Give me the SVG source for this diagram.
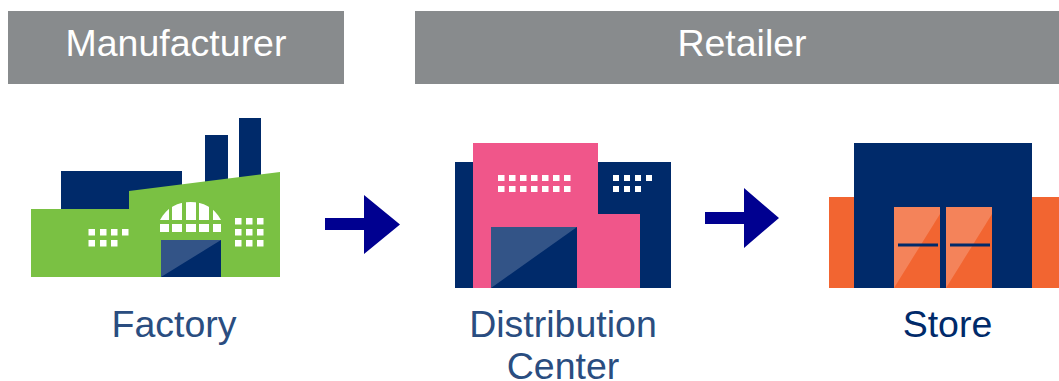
<svg xmlns="http://www.w3.org/2000/svg" width="1059" height="381" viewBox="0 0 1059 381">
<style>
.hdr{fill:#888b8d}
.ht{font:37.500px "Liberation Sans",Arial,sans-serif;fill:#fff;text-anchor:middle}
.lb{font:37.500px "Liberation Sans",Arial,sans-serif;fill:#2a4d80;text-anchor:middle}
.navy{fill:#002a6a}
.w{fill:#fff}
.gl{fill:#fff;fill-opacity:.2}
.arrow{fill:#000090}
</style>
<defs>
<clipPath id="dome"><path d="M160 220C167 207 178 202 190.500 202C203 202 214 207 221 220Z"/></clipPath>
</defs>
<rect width="1059" height="381" fill="#fff"/>
<g id="manufacturer"><rect class="hdr" x="8" y="11" width="336" height="73"/><text class="ht" x="176" y="56">Manufacturer</text></g>
<g id="retailer"><rect class="hdr" x="415" y="11" width="644" height="73"/><text class="ht" x="742" y="56">Retailer</text></g>
<g id="factory">
<rect class="navy" x="61" y="171" width="121" height="40"/>
<rect class="navy" x="205" y="135" width="23" height="50"/>
<rect class="navy" x="239" y="118" width="22" height="65"/>
<path fill="#7ac143" d="M31 209H129V191L280 172V277H31Z"/>
<g class="w">
<rect x="88.500" y="229" width="6.500" height="6.500"/><rect x="100" y="229" width="6.500" height="6.500"/><rect x="111" y="229" width="6.500" height="6.500"/><rect x="122" y="229" width="6.500" height="6.500"/>
<rect x="88.500" y="240" width="6.500" height="6.500"/><rect x="100" y="240" width="6.500" height="6.500"/><rect x="111" y="240" width="6.500" height="6.500"/>
<rect x="235" y="218" width="6.500" height="6.500"/><rect x="246" y="218" width="6.500" height="6.500"/><rect x="257" y="218" width="6.500" height="6.500"/>
<rect x="235" y="229" width="6.500" height="6.500"/><rect x="246" y="229" width="6.500" height="6.500"/><rect x="257" y="229" width="6.500" height="6.500"/>
<rect x="235" y="240" width="6.500" height="6.500"/><rect x="246" y="240" width="6.500" height="6.500"/><rect x="257" y="240" width="6.500" height="6.500"/>
<rect x="160" y="224" width="9" height="8"/><rect x="172" y="224" width="10" height="8"/><rect x="186" y="224" width="10" height="8"/><rect x="199" y="224" width="10" height="8"/><rect x="213" y="224" width="8" height="8"/>
<g clip-path="url(#dome)"><rect x="160" y="200" width="9" height="20"/><rect x="172" y="200" width="10" height="20"/><rect x="186" y="200" width="10" height="20"/><rect x="199" y="200" width="10" height="20"/><rect x="213" y="200" width="8" height="20"/></g>
</g>
<rect class="navy" x="161" y="240" width="60" height="37"/>
<path class="gl" d="M161 240H221L161 277Z"/>
</g>
<g id="distribution-center">
<rect class="navy" x="455" y="162" width="216" height="126"/>
<path fill="#f0568a" d="M473 143H598V214H640V288H473Z"/>
<rect class="navy" x="491" y="227" width="86" height="61"/>
<path class="gl" d="M491 227H577L491 288Z"/>
<g class="w">
<rect x="498" y="175" width="6.500" height="6"/><rect x="509" y="175" width="6.500" height="6"/><rect x="520" y="175" width="6.500" height="6"/><rect x="531" y="175" width="6.500" height="6"/><rect x="542" y="175" width="6.500" height="6"/><rect x="553" y="175" width="6.500" height="6"/><rect x="564" y="175" width="6.500" height="6"/>
<rect x="498" y="186" width="6.500" height="6"/><rect x="509" y="186" width="6.500" height="6"/><rect x="520" y="186" width="6.500" height="6"/><rect x="531" y="186" width="6.500" height="6"/><rect x="542" y="186" width="6.500" height="6"/><rect x="553" y="186" width="6.500" height="6"/><rect x="564" y="186" width="6.500" height="6"/>
<rect x="613" y="175" width="6" height="6"/><rect x="624" y="175" width="6" height="6"/><rect x="635" y="175" width="6" height="6"/><rect x="646" y="175" width="6" height="6"/>
<rect x="613" y="186" width="6" height="6"/><rect x="624" y="186" width="6" height="6"/><rect x="635" y="186" width="6" height="6"/>
</g>
</g>
<g id="store">
<rect fill="#f26531" x="829" y="197" width="230" height="91"/>
<rect class="navy" x="854" y="143" width="178" height="145"/>
<rect fill="#f26531" x="894" y="207" width="46" height="81"/>
<rect fill="#f26531" x="946" y="207" width="46" height="81"/>
<path class="gl" d="M894 207H940V214L894 288Z"/>
<path class="gl" d="M946 207H992V214L946 288Z"/>
<rect class="navy" x="898" y="243.500" width="40" height="3"/>
<rect class="navy" x="950" y="243.500" width="40" height="3"/>
</g>
<g id="connectors">
<path class="arrow" d="M325 218H364V195L400 224.500L364 254V230H325Z"/>
<path class="arrow" d="M705 212H744V188L779 218L744 248V224H705Z"/>
</g>
<g id="labels">
<text class="lb" x="174" y="337">Factory</text>
<text class="lb" x="563" y="337">Distribution</text>
<text class="lb" x="563" y="379">Center</text>
<text class="lb" x="947.500" y="337" style="fill:#002a6a">Store</text>
</g>
</svg>
